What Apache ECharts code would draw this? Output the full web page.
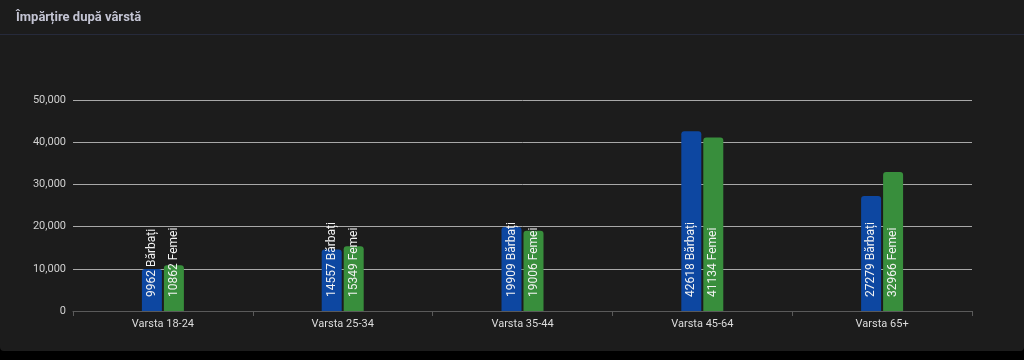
<!DOCTYPE html>
<html>
<head>
<meta charset="utf-8">
<script src="https://cdn.jsdelivr.net/npm/echarts@6/dist/echarts.min.js"></script>
<style>
  html, body { margin: 0; padding: 0; background: #000; }
  .card { width: 1024px; height: 351px; background: #1c1c1c; border-radius: 0 0 4px 4px; }
  .echarts_1 { width: 1024px; height: 351px; }
</style>
</head>
<body>
<div class="card"><div class="echarts_1"></div></div>
<script>
// categorii si valori
var categories = ['Varsta 18-24', 'Varsta 25-34', 'Varsta 35-44', 'Varsta 45-64', 'Varsta 65+'];
var barbati = [9962, 14557, 19909, 42618, 27279];
var femei = [10862, 15349, 19006, 41134, 32966];
var yTicks = [0, 10000, 20000, 30000, 40000, 50000];

var chart = echarts.init(document.querySelector('.echarts_1'));

function barLabel(name) {
  return {
    show: true,
    position: 'insideBottom',
    rotate: 90,
    align: 'left',
    verticalAlign: 'middle',
    distance: 14,
    color: '#f2f2f2',
    fontSize: 12,
    fontFamily: 'Roboto',
    formatter: function (p) { return p.value + ' ' + name; }
  };
}

var option = {
  animation: false,
  title: {
    text: 'Împărțire după vârstă',
    left: 11,
    top: 6,
    textStyle: { color: '#c3c4d3', fontSize: 13, fontWeight: 'bold', fontFamily: 'Roboto' }
  },
  graphic: [{
    type: 'rect',
    shape: { x: 0, y: 34, width: 1024, height: 1 },
    style: { fill: '#262a3b' }
  }],
  grid: { left: 73, right: 52, top: 100, bottom: 40 },
  xAxis: {
    type: 'category',
    data: categories,
    axisLine: { lineStyle: { color: '#5a5a5a' } },
    axisTick: { show: true, alignWithLabel: false, lineStyle: { color: '#5a5a5a' } },
    axisLabel: { color: '#dcdcdc', fontSize: 11, fontFamily: 'Roboto', margin: 8 }
  },
  yAxis: {
    type: 'value',
    min: yTicks[0],
    max: yTicks[yTicks.length - 1],
    interval: 10000,
    axisLabel: {
      color: '#d0d0d0', fontSize: 11, fontFamily: 'Roboto', margin: 7,
      formatter: function (v) { return v.toLocaleString('en-US'); }
    },
    splitLine: { lineStyle: { color: '#a8a8a8', width: 1 } }
  },
  series: [
    {
      name: 'Bărbați',
      type: 'bar',
      data: barbati,
      barWidth: 20,
      barGap: '10%',
      itemStyle: { color: '#0d47a1', borderRadius: [3, 3, 0, 0] },
      label: barLabel('Bărbați')
    },
    {
      name: 'Femei',
      type: 'bar',
      data: femei,
      barWidth: 20,
      itemStyle: { color: '#388e3c', borderRadius: [3, 3, 0, 0] },
      label: barLabel('Femei')
    }
  ]
};

chart.setOption(option);
</script>
</body>
</html>
